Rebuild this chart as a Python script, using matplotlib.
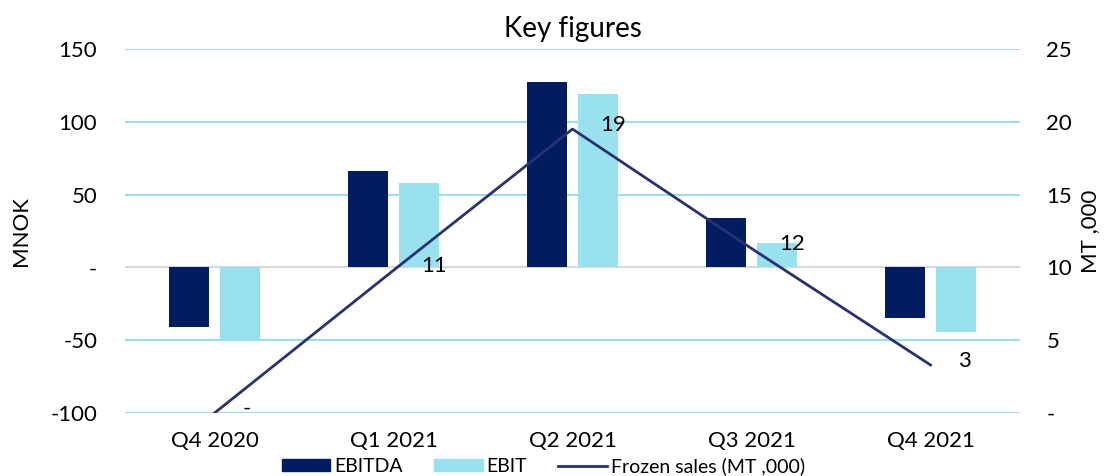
import numpy as np
import matplotlib
matplotlib.use('Agg')
import matplotlib.pyplot as plt
from matplotlib.lines import Line2D
from matplotlib.patches import Patch

plt.rcParams['font.family'] = ['Lato', 'DejaVu Sans']

quarters = ['Q4 2020', 'Q1 2021', 'Q2 2021', 'Q3 2021', 'Q4 2021']
ebitda = [-41, 66, 127, 34, -35]
ebit = [-49.5, 58, 119, 17, -44.5]
frozen_sales = [0, 9.8, 19.5, 11.3, 3.3]
sales_labels = ['-', '11', '19', '12', '3']

left_ticks = [-100, -50, 0, 50, 100, 150]
left_ticklabels = ['-100', '-50', '-', '50', '100', '150']
right_ticks = [0, 5, 10, 15, 20, 25]
right_ticklabels = ['-', '5', '10', '15', '20', '25']

c_ebitda = '#021C62'
c_ebit = '#99E1EF'
c_line = '#27336F'
c_grid = '#9CDFEC'

fig = plt.figure(figsize=(11.09, 4.76), dpi=100)
ax = fig.add_axes([125/1109, 1-413/476, 895/1109, 364/476])
x = np.arange(len(quarters))
w = 0.225
off = 0.144

ax.bar(x - off, ebitda, w, color=c_ebitda, zorder=3)
ax.bar(x + off, ebit, w, color=c_ebit, zorder=3)

ax.set_xlim(-0.5, 4.5)
ax.set_ylim(-100, 150)
ax.set_yticks(left_ticks)
ax.set_yticklabels(left_ticklabels)
for t in left_ticks:
    if t == 0:
        ax.axhline(t, color='#D9D9D9', lw=1.5, zorder=2)
    else:
        ax.axhline(t, color=c_grid, lw=1.5, zorder=1)
ax.set_xticks(x)
ax.set_xticklabels(quarters)
ax.tick_params(axis='both', length=0, labelsize=16)
ax.tick_params(axis='x', pad=13)
ax.tick_params(axis='y', pad=20)
for s in ax.spines.values():
    s.set_visible(False)
ax.set_ylabel('MNOK', fontsize=16, labelpad=14)
ax.set_title('Key figures', fontsize=20, pad=9)

ax2 = ax.twinx()
ax2.plot(x, frozen_sales, color=c_line, lw=2, zorder=4)
ax2.set_ylim(0, 25)
ax2.set_yticks(right_ticks)
ax2.set_yticklabels(right_ticklabels)
ax2.tick_params(axis='y', length=0, labelsize=16, pad=19)
for s in ax2.spines.values():
    s.set_visible(False)
ax2.set_ylabel('MT ,000', fontsize=16, labelpad=6)

for xi, v, lab in zip(x, frozen_sales, sales_labels):
    ax2.annotate(lab, (xi, v), xytext=(20, 3), textcoords='offset points',
                 ha='left', va='center', fontsize=16)

handles = [Patch(color=c_ebitda), Patch(color=c_ebit), Line2D([], [], color=c_line, lw=2)]
fig.legend(handles, ['EBITDA', 'EBIT', 'Frozen sales (MT ,000)'], loc='lower center',
           bbox_to_anchor=(0.49, -0.035), ncol=3, frameon=False, fontsize=14,
           handlelength=2.5, handleheight=0.6, handletextpad=0.2, columnspacing=1.6)

fig.savefig('out.png', dpi=100)
